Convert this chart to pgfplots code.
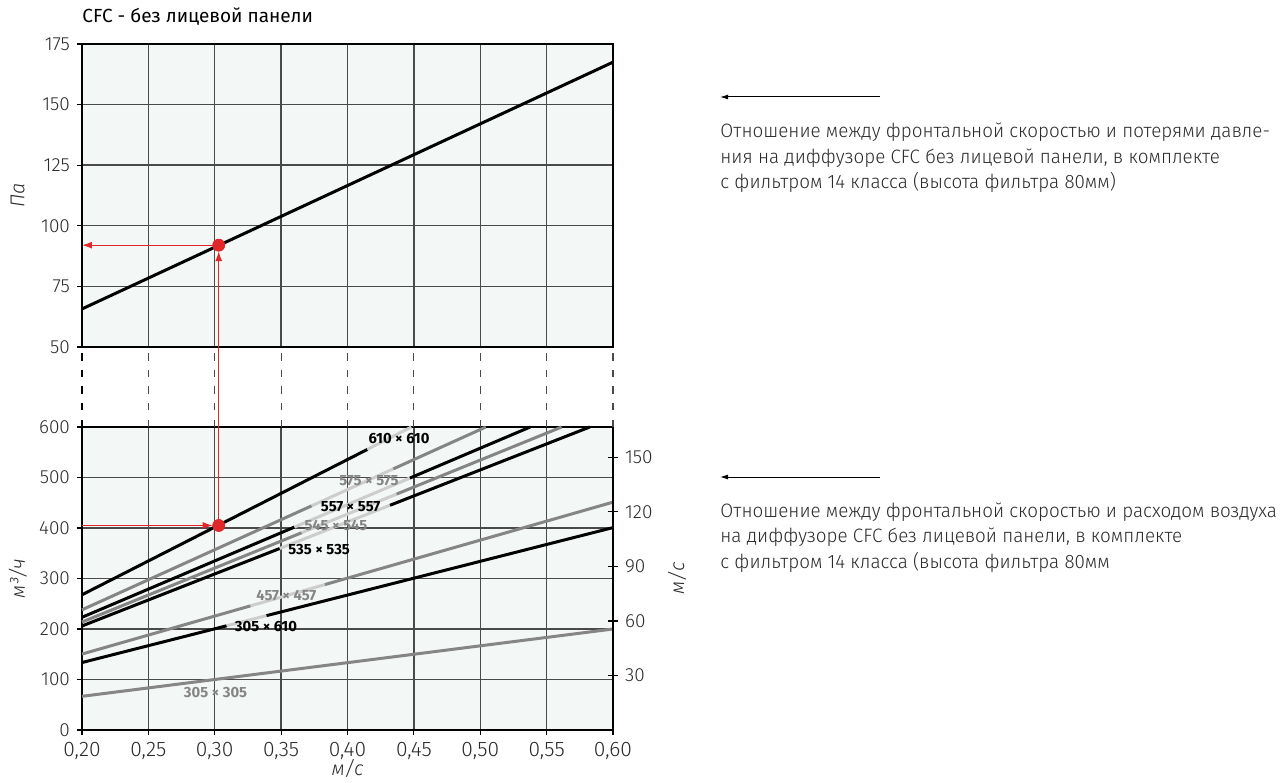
\documentclass[border=0pt]{standalone}
\usepackage{fontspec}
\setmainfont{Fira Sans Light}
\newfontfamily\regfont{Fira Sans}
\newfontfamily\condfont{Fira Sans Light}[FakeStretch=0.97]
\usepackage{pgfplots}
\pgfplotsset{compat=1.18}
\usetikzlibrary{arrows.meta}
\definecolor{bgc}{HTML}{F3F7F6}
\definecolor{gridc}{HTML}{4A4A4A}
\definecolor{lgrey}{HTML}{858585}
\definecolor{llgrey}{HTML}{CDCDCD}
\definecolor{redc}{HTML}{E0282A}
\definecolor{txt}{HTML}{2A2A2A}
\tikzset{lbl/.style={font=\regfont\bfseries\fontsize{7.4}{8}\selectfont}}
\pgfplotsset{
  common/.style={
    scale only axis, width=265.5pt, height=151.5pt,
    xmin=0.2, xmax=0.6,
    xtick={0.2,0.25,0.3,0.35,0.4,0.45,0.5,0.55,0.6},
    axis background/.style={fill=bgc},
    grid=major,
    major grid style={gridc, line width=0.7pt},
    axis line style={black, line width=0.6pt},
    tick align=outside,
    major tick length=2.5pt,
    tick style={black, line width=0.6pt},
    ytick pos=left,
    xtick pos=bottom,
    /pgf/number format/assume math mode=true,
    yticklabel style={font=\fontsize{9.5}{11}\selectfont, text=txt},
    xticklabel style={font=\fontsize{10.5}{12}\selectfont, text=txt},
    label style={font=\fontsize{10}{12}\selectfont\itshape, text=txt},
    clip=false,
  },
  dline/.style={line width=1.5pt},
}
\begin{document}
\begin{tikzpicture}
\useasboundingbox (-41pt,-26pt) rectangle (603pt,365pt);
% ---------- top axis ----------
\begin{axis}[common, at={(0pt,191.5pt)}, anchor=south west,
  ymin=50, ymax=175, ytick={50,75,100,125,150,175},
  xticklabels={}, xtick style={draw=none},
  ylabel={Па}, ylabel style={at={(axis description cs:-0.121,0.5)}, anchor=center}]
\addplot[black, dline] coordinates {(0.2,65.7) (0.6,167.5)};
\draw[redc, line width=0.6pt, -{Latex[length=5pt,width=3.5pt]}, shorten <=3pt] (axis cs:0.303,92) -- (axis cs:0.2,92);
\addplot[only marks, mark=*, mark size=3pt, color=redc] coordinates {(0.303,92)};
\coordinate (rt) at (axis cs:0.303,92);
\node[anchor=base west, font=\regfont\fontsize{9.5}{11}\selectfont, text=black, inner sep=0pt] at (axis description cs:0,1.0) [yshift=10.5pt] {CFC - без лицевой панели};
\end{axis}
% ---------- bottom axis ----------
\begin{axis}[common, at={(0pt,0pt)}, anchor=south west,
  ymin=0, ymax=600, ytick={0,100,200,300,400,500,600},
  xticklabel style={/pgf/number format/.cd, use comma, fixed, fixed zerofill, precision=2},
  xlabel={м/с}, xlabel style={at={(axis description cs:0.5,-0.127)}, anchor=center},
  ylabel={м³/ч}, ylabel style={at={(axis description cs:-0.121,0.5)}, anchor=center}]
\draw[black, line width=0.6pt, dash pattern=on 3.7pt off 4.6pt] (axis cs:0.2,600) -- ++(0pt,40pt);
\pgfplotsinvokeforeach{0.25,0.3,0.35,0.4,0.45,0.5,0.55,0.6}{
  \draw[gridc, line width=0.6pt, dash pattern=on 3.7pt off 4.6pt] (axis cs:#1,600) -- ++(0pt,40pt);
}
% 305 x 305
\addplot[lgrey, dline] coordinates {(0.2,66.7) (0.6,200)};
% 305 x 610
\addplot[black, dline] coordinates {(0.2,133.6) (0.309,206.4)};
\addplot[llgrey, dline] coordinates {(0.309,206.4) (0.339,226.5)};
\addplot[black, dline] coordinates {(0.339,226.5) (0.6,400.8)};
% 457 x 457
\addplot[lgrey, dline] coordinates {(0.2,150.4) (0.327,245.9)};
\addplot[llgrey, dline] coordinates {(0.327,245.9) (0.383,288.0)};
\addplot[lgrey, dline] coordinates {(0.383,288.0) (0.6,451.2)};
% 535 x 535
\addplot[black, dline] coordinates {(0.2,206) (0.349,359.5)};
\addplot[llgrey, dline] coordinates {(0.349,359.5) (0.432,445)};
\addplot[black, dline] coordinates {(0.432,445) (0.5825,600)};
% 545 x 545
\addplot[lgrey, dline] coordinates {(0.2,213.8) (0.3655,390.7)};
\addplot[llgrey, dline] coordinates {(0.3655,390.7) (0.437,467.2)};
\addplot[lgrey, dline] coordinates {(0.437,467.2) (0.5613,600)};
% 557 x 557
\addplot[black, dline] coordinates {(0.2,223.2) (0.360,401.8)};
\addplot[llgrey, dline] coordinates {(0.360,401.8) (0.447,498.9)};
\addplot[black, dline] coordinates {(0.447,498.9) (0.5376,600)};
% 575 x 575
\addplot[lgrey, dline] coordinates {(0.2,238) (0.373,443.9)};
\addplot[llgrey, dline] coordinates {(0.373,443.9) (0.4345,517.1)};
\addplot[lgrey, dline] coordinates {(0.4345,517.1) (0.5042,600)};
% 610 x 610
\addplot[black, dline] coordinates {(0.2,267.8) (0.415,555.7)};
\addplot[llgrey, dline] coordinates {(0.415,555.7) (0.4481,600)};
% labels
\node[lbl, text=black] at (axis cs:0.4388,578) {610 × 610};
\node[lbl, text=lgrey] at (axis cs:0.4162,494) {575 × 575};
\node[lbl, text=black] at (axis cs:0.4023,442.7) {557 × 557};
\node[lbl, text=lgrey] at (axis cs:0.3913,404.5) {545 × 545};
\node[lbl, text=black] at (axis cs:0.3786,357) {535 × 535};
\node[lbl, text=lgrey] at (axis cs:0.3539,266) {457 × 457};
\node[lbl, text=black] at (axis cs:0.3386,205) {305 × 610};
\node[lbl, text=lgrey] at (axis cs:0.3006,75) {305 × 305};
% red reading
\draw[redc, line width=0.6pt, -{Latex[length=5pt,width=3.5pt]}, shorten >=3pt] (axis cs:0.2,405) -- (axis cs:0.303,405);
\addplot[only marks, mark=*, mark size=3pt, color=redc] coordinates {(0.303,405)};
\coordinate (rb) at (axis cs:0.303,405);
\end{axis}
% ---------- right axis (l/s) ----------
\begin{axis}[at={(0pt,0pt)}, anchor=south west, scale only axis, width=265.5pt, height=151.5pt,
  xmin=0.2, xmax=0.6, ymin=0, ymax=166.667,
  axis y line*=right, hide x axis,
  ytick={30,60,90,120,150}, tick align=center, major tick length=5pt,
  tick style={black, line width=0.6pt}, axis line style={black, line width=0.6pt},
  /pgf/number format/assume math mode=true,
  yticklabel style={font=\fontsize{9.5}{11}\selectfont, text=txt},
  ylabel={м/с}, ylabel style={font=\fontsize{10}{12}\selectfont\itshape, text=txt, at={(axis description cs:1.1205,0.5)}, anchor=center}]
\end{axis}
\draw[redc, line width=0.6pt, -{Latex[length=5pt,width=3.5pt]}, shorten <=3pt, shorten >=3pt] (rb) -- (rt);
% ---------- right-hand notes ----------
\draw[black, line width=0.5pt, -{Latex[length=4pt,width=2.5pt]}] (399pt,316.5pt) -- (319pt,316.5pt);
\begin{scope}[every node/.style={anchor=base west, inner sep=0pt, font=\condfont\fontsize{9.7}{12}\selectfont, text=txt}]
\node at (319pt,296pt) {Отношение между фронтальной скоростью и потерями давле-};
\node at (319pt,283.25pt) {ния на диффузоре CFC без лицевой панели, в комплекте};
\node at (319pt,270.5pt) {с фильтром 14 класса (высота фильтра 80мм)};
\end{scope}
\draw[black, line width=0.5pt, -{Latex[length=4pt,width=2.5pt]}] (399pt,126.5pt) -- (319pt,126.5pt);
\begin{scope}[every node/.style={anchor=base west, inner sep=0pt, font=\condfont\fontsize{9.7}{12}\selectfont, text=txt}]
\node at (319pt,106.5pt) {Отношение между фронтальной скоростью и расходом воздуха};
\node at (319pt,93.75pt) {на диффузоре CFC без лицевой панели, в комплекте};
\node at (319pt,81pt) {с фильтром 14 класса (высота фильтра 80мм};
\end{scope}
\end{tikzpicture}
\end{document}
